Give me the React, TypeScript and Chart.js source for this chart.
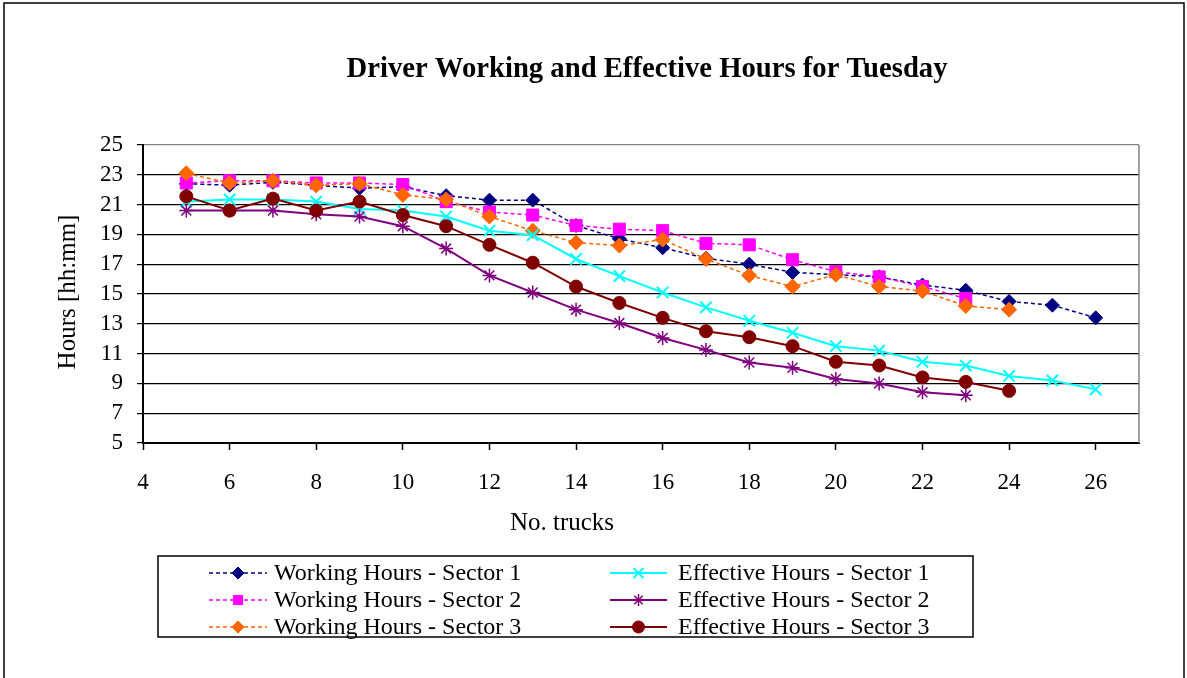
import React, { useEffect, useRef } from 'react';
import { Chart, registerables } from 'chart.js';
import { drawPoint } from 'chart.js/helpers';

Chart.register(...registerables);

// ---------- text ----------
const TITLE = 'Driver Working and Effective Hours for Tuesday';
const X_TITLE = 'No. trucks';
const Y_TITLE = 'Hours [hh:mm]';

// ---------- axes ----------
const xTickValues = [4, 6, 8, 10, 12, 14, 16, 18, 20, 22, 24, 26];
const yTickValues = [5, 7, 9, 11, 13, 15, 17, 19, 21, 23, 25];
const X_MIN = 4;
const X_MAX = 27;
const Y_MIN = 5;
const Y_MAX = 25;

// ---------- categories (number of trucks) ----------
const trucks5to26 = [5, 6, 7, 8, 9, 10, 11, 12, 13, 14, 15, 16, 17, 18, 19, 20, 21, 22, 23, 24, 25, 26];
const trucks5to24 = [5, 6, 7, 8, 9, 10, 11, 12, 13, 14, 15, 16, 17, 18, 19, 20, 21, 22, 23, 24];
const trucks5to23 = [5, 6, 7, 8, 9, 10, 11, 12, 13, 14, 15, 16, 17, 18, 19, 20, 21, 22, 23];

// ---------- series values (hours) ----------
const workingSector1 = [22.4, 22.3, 22.5, 22.3, 22.1, 22.2, 21.6, 21.3, 21.3, 19.6, 18.7, 18.1, 17.4, 17.0, 16.45, 16.3, 16.15, 15.6, 15.25, 14.5, 14.25, 13.4];
const workingSector2 = [22.45, 22.6, 22.6, 22.45, 22.45, 22.35, 21.2, 20.5, 20.3, 19.6, 19.35, 19.25, 18.4, 18.3, 17.3, 16.5, 16.15, 15.5, 14.7];
const workingSector3 = [23.1, 22.45, 22.6, 22.3, 22.4, 21.65, 21.35, 20.2, 19.25, 18.45, 18.25, 18.65, 17.35, 16.25, 15.5, 16.3, 15.5, 15.2, 14.2, 13.95];
const effectiveSector1 = [21.2, 21.35, 21.35, 21.2, 20.7, 20.6, 20.2, 19.25, 18.95, 17.35, 16.2, 15.1, 14.1, 13.2, 12.4, 11.5, 11.2, 10.45, 10.2, 9.5, 9.2, 8.6];
const effectiveSector2 = [20.6, 20.6, 20.6, 20.35, 20.2, 19.55, 18.05, 16.25, 15.1, 13.95, 13.05, 12.05, 11.25, 10.4, 10.05, 9.3, 9.0, 8.4, 8.2];
const effectiveSector3 = [21.55, 20.6, 21.4, 20.6, 21.2, 20.3, 19.55, 18.3, 17.1, 15.5, 14.4, 13.4, 12.5, 12.1, 11.5, 10.45, 10.2, 9.4, 9.1, 8.5];

const seriesLabels = [
  'Working Hours - Sector 1',
  'Working Hours - Sector 2',
  'Working Hours - Sector 3',
  'Effective Hours - Sector 1',
  'Effective Hours - Sector 2',
  'Effective Hours - Sector 3',
];

const FONT = "'Liberation Serif', 'Times New Roman', serif";

type SeriesStyle = {
  color: string;
  pointStyle: string;
  radius: number;
  legendRadius: number;
  pointBorder: number;
  dashed: boolean;
};

const styles: SeriesStyle[] = [
  { color: '#000080', pointStyle: 'rectRot', radius: 7, legendRadius: 6, pointBorder: 1, dashed: true },
  { color: '#FF00FF', pointStyle: 'rect', radius: 8.5, legendRadius: 6.5, pointBorder: 1, dashed: true },
  { color: '#FF6600', pointStyle: 'rectRot', radius: 7.5, legendRadius: 6, pointBorder: 1, dashed: true },
  { color: '#00FFFF', pointStyle: 'crossRot', radius: 8, legendRadius: 7, pointBorder: 2, dashed: false },
  { color: '#800080', pointStyle: 'star', radius: 7, legendRadius: 6, pointBorder: 1.5, dashed: false },
  { color: '#800000', pointStyle: 'circle', radius: 6.5, legendRadius: 6, pointBorder: 1, dashed: false },
];

const seriesX = [trucks5to26, trucks5to23, trucks5to24, trucks5to26, trucks5to23, trucks5to24];
const seriesY = [workingSector1, workingSector2, workingSector3, effectiveSector1, effectiveSector2, effectiveSector3];

const decorPlugin = {
  id: 'decor',
  beforeDraw(chart: any) {
    const { ctx, width, height } = chart;
    ctx.save();
    ctx.fillStyle = '#ffffff';
    ctx.fillRect(0, 0, width, height);
    ctx.strokeStyle = '#000000';
    ctx.lineWidth = 1.5;
    ctx.strokeRect(4, 3, 1180, 720);
    ctx.restore();
  },
  beforeDatasetsDraw(chart: any) {
    const { ctx, chartArea } = chart;
    ctx.save();
    ctx.strokeStyle = '#808080';
    ctx.lineWidth = 1.5;
    ctx.beginPath();
    ctx.moveTo(chartArea.right, chartArea.top);
    ctx.lineTo(chartArea.right, chartArea.bottom);
    ctx.stroke();
    ctx.restore();
  },
  afterDraw(chart: any) {
    const { ctx } = chart;
    ctx.save();
    ctx.fillStyle = '#000000';

    // Title (fit to the reference's width)
    ctx.font = `bold 29px ${FONT}`;
    ctx.textAlign = 'center';
    ctx.textBaseline = 'alphabetic';
    const tw = ctx.measureText(TITLE).width;
    const sx = 601 / tw;
    ctx.save();
    ctx.translate(647, 77);
    ctx.scale(sx, 1);
    ctx.fillText(TITLE, 0, 0);
    ctx.restore();

    // X axis title
    ctx.font = `25px ${FONT}`;
    ctx.fillText(X_TITLE, 562, 530);

    // Y axis title
    ctx.save();
    ctx.translate(75, 292);
    ctx.rotate(-Math.PI / 2);
    ctx.fillText(Y_TITLE, 0, 0);
    ctx.restore();

    // Legend box
    ctx.strokeStyle = '#000000';
    ctx.lineWidth = 1.5;
    ctx.strokeRect(158, 556, 815, 81);

    const rowsY = [573, 600, 627];
    const cols = [
      { x0: 209, x1: 267, tx: 274 },
      { x0: 610, x1: 667, tx: 678 },
    ];
    ctx.font = `24px ${FONT}`;
    ctx.textAlign = 'left';
    ctx.textBaseline = 'middle';
    seriesLabels.forEach((label, i) => {
      const col = cols[Math.floor(i / 3)];
      const y = rowsY[i % 3];
      const s = styles[i];
      ctx.save();
      ctx.strokeStyle = s.color;
      ctx.fillStyle = s.color;
      ctx.lineWidth = s.dashed ? 1.5 : 2;
      ctx.setLineDash(s.dashed ? [4, 3] : []);
      ctx.beginPath();
      ctx.moveTo(col.x0, y);
      ctx.lineTo(col.x1, y);
      ctx.stroke();
      ctx.setLineDash([]);
      ctx.lineWidth = s.pointBorder;
      drawPoint(ctx, { pointStyle: s.pointStyle as any, rotation: 0, radius: s.legendRadius, borderWidth: s.pointBorder }, (col.x0 + col.x1) / 2, y);
      ctx.restore();
      ctx.fillStyle = '#000000';
      ctx.fillText(label, col.tx, y + 1);
    });
    ctx.restore();
  },
};

export default function App() {
  const canvasRef = useRef<HTMLCanvasElement | null>(null);

  useEffect(() => {
    const canvas = canvasRef.current;
    if (!canvas) return;
    const n = seriesLabels.length;
    const datasets = seriesLabels.map((label, i) => {
      const s = styles[i];
      return {
        label,
        data: seriesX[i].map((x, j) => ({ x, y: seriesY[i][j] })),
        borderColor: s.color,
        backgroundColor: s.color,
        borderWidth: s.dashed ? 1.5 : 2,
        borderDash: s.dashed ? [4, 3] : [],
        pointStyle: s.pointStyle,
        pointRadius: s.radius,
        pointBorderWidth: s.pointBorder,
        pointBackgroundColor: s.color,
        pointBorderColor: s.color,
        tension: 0,
        fill: false,
        order: n - i,
      };
    });

    const chart = new Chart(canvas, {
      type: 'line',
      data: { datasets } as any,
      options: {
        animation: false,
        responsive: false,
        devicePixelRatio: 1,
        events: [],
        layout: { padding: { left: 83, top: 145, right: 48, bottom: 165 } },
        plugins: {
          legend: { display: false },
          title: { display: false },
          tooltip: { enabled: false },
        },
        scales: {
          x: {
            type: 'linear',
            min: X_MIN,
            max: X_MAX,
            clip: false,
            afterBuildTicks: (scale: any) => {
              scale.ticks = xTickValues.map((v) => ({ value: v }));
            },
            afterFit: (scale: any) => {
              scale.height = 70;
            },
            ticks: {
              color: '#000',
              font: { family: FONT, size: 23 },
              padding: 19,
              maxRotation: 0,
              autoSkip: false,
            },
            grid: { drawOnChartArea: false, drawTicks: true, tickLength: 7, tickColor: '#000', tickWidth: 1.5 },
            border: { display: true, color: '#000', width: 2 },
          },
          y: {
            type: 'linear',
            min: Y_MIN,
            max: Y_MAX,
            clip: false,
            afterBuildTicks: (scale: any) => {
              scale.ticks = yTickValues.map((v) => ({ value: v }));
            },
            afterFit: (scale: any) => {
              scale.width = 60;
            },
            ticks: {
              color: '#000',
              font: { family: FONT, size: 23 },
              padding: 14,
              autoSkip: false,
            },
            grid: {
              color: (c: any) => (c.tick && c.tick.value === Y_MAX ? '#808080' : '#000000'),
              lineWidth: 1.2,
              drawTicks: true,
              tickLength: 6,
              tickColor: '#000',
            },
            border: { display: true, color: '#000', width: 2 },
          },
        },
      } as any,
      plugins: [decorPlugin as any],
    });
    return () => chart.destroy();
  }, []);

  return (
    <div style={{ position: 'fixed', left: 0, top: 0, width: 1187, height: 678, background: '#fff' }}>
      <canvas ref={canvasRef} width={1187} height={678} style={{ width: 1187, height: 678, display: 'block' }} />
    </div>
  );
}
